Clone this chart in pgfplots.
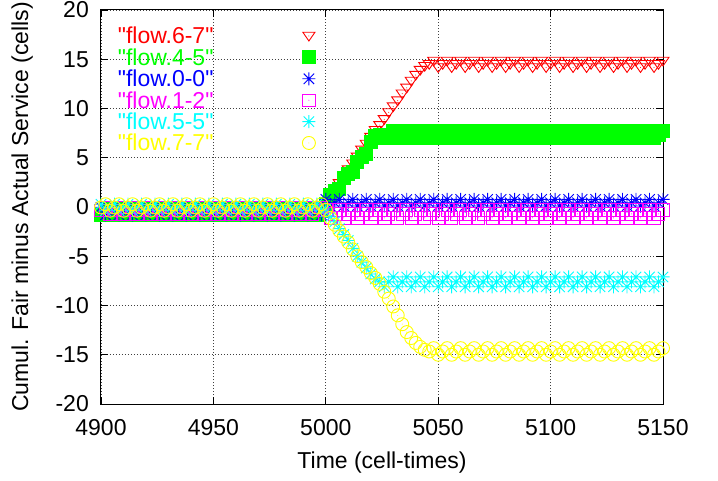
\documentclass[border=0pt]{standalone}
\usepackage{fontspec}
\setmainfont{Liberation Sans}[Ligatures=TeXOff]
\usepackage{pgfplots}
\usepackage{pgfplotstable}
\pgfplotsset{compat=1.18}

\definecolor{gpred}{RGB}{255,0,0}
\definecolor{gpgreen}{RGB}{0,255,0}
\definecolor{gpblue}{RGB}{0,0,255}
\definecolor{gpmag}{RGB}{255,0,255}
\definecolor{gpcyan}{RGB}{0,255,255}
\definecolor{gpyellow}{RGB}{255,255,0}

\pgfdeclareplotmark{dtri}{%
  \pgfpathmoveto{\pgfqpoint{0pt}{-0.75\pgfplotmarksize}}%
  \pgfpathlineto{\pgfqpoint{0.9\pgfplotmarksize}{0.55\pgfplotmarksize}}%
  \pgfpathlineto{\pgfqpoint{-0.9\pgfplotmarksize}{0.55\pgfplotmarksize}}%
  \pgfpathclose\pgfusepathqstroke
  \pgfpathcircle{\pgfpointorigin}{0.5pt}\pgfusepathqfill}
\pgfdeclareplotmark{sqdot}{%
  \pgfpathrectangle{\pgfqpoint{-\pgfplotmarksize}{-\pgfplotmarksize}}{\pgfqpoint{2\pgfplotmarksize}{2\pgfplotmarksize}}%
  \pgfusepathqstroke
  \pgfpathcircle{\pgfpointorigin}{0.5pt}\pgfusepathqfill}
\pgfdeclareplotmark{circdot}{%
  \pgfpathcircle{\pgfpointorigin}{\pgfplotmarksize}\pgfusepathqstroke
  \pgfpathcircle{\pgfpointorigin}{0.5pt}\pgfusepathqfill}
\pgfdeclareplotmark{plusx}{%
  \pgfpathmoveto{\pgfqpoint{-\pgfplotmarksize}{0pt}}\pgfpathlineto{\pgfqpoint{\pgfplotmarksize}{0pt}}%
  \pgfpathmoveto{\pgfqpoint{0pt}{-\pgfplotmarksize}}\pgfpathlineto{\pgfqpoint{0pt}{\pgfplotmarksize}}%
  \pgfpathmoveto{\pgfqpoint{-0.8\pgfplotmarksize}{-0.8\pgfplotmarksize}}\pgfpathlineto{\pgfqpoint{0.8\pgfplotmarksize}{0.8\pgfplotmarksize}}%
  \pgfpathmoveto{\pgfqpoint{-0.8\pgfplotmarksize}{0.8\pgfplotmarksize}}\pgfpathlineto{\pgfqpoint{0.8\pgfplotmarksize}{-0.8\pgfplotmarksize}}%
  \pgfusepathqstroke}

\pgfplotstableread{
t A B C D E F
4900 -0.55 -0.80 -0.03 -0.37 0.28 -0.05
4902 -0.22 -0.45 -0.80 -0.03 -0.38 0.28
4904 0.12 -0.10 -0.40 -0.75 -0.05 -0.38
4906 -0.55 -0.80 -0.03 -0.37 0.28 -0.05
4908 -0.22 -0.45 -0.80 -0.03 -0.38 0.28
4910 0.12 -0.10 -0.40 -0.75 -0.05 -0.38
4912 -0.55 -0.80 -0.03 -0.37 0.28 -0.05
4914 -0.22 -0.45 -0.80 -0.03 -0.38 0.28
4916 0.12 -0.10 -0.40 -0.75 -0.05 -0.38
4918 -0.55 -0.80 -0.03 -0.37 0.28 -0.05
4920 -0.22 -0.45 -0.80 -0.03 -0.38 0.28
4922 0.12 -0.10 -0.40 -0.75 -0.05 -0.38
4924 -0.55 -0.80 -0.03 -0.37 0.28 -0.05
4926 -0.22 -0.45 -0.80 -0.03 -0.38 0.28
4928 0.12 -0.10 -0.40 -0.75 -0.05 -0.38
4930 -0.55 -0.80 -0.03 -0.37 0.28 -0.05
4932 -0.22 -0.45 -0.80 -0.03 -0.38 0.28
4934 0.12 -0.10 -0.40 -0.75 -0.05 -0.38
4936 -0.55 -0.80 -0.03 -0.37 0.28 -0.05
4938 -0.22 -0.45 -0.80 -0.03 -0.38 0.28
4940 0.12 -0.10 -0.40 -0.75 -0.05 -0.38
4942 -0.55 -0.80 -0.03 -0.37 0.28 -0.05
4944 -0.22 -0.45 -0.80 -0.03 -0.38 0.28
4946 0.12 -0.10 -0.40 -0.75 -0.05 -0.38
4948 -0.55 -0.80 -0.03 -0.37 0.28 -0.05
4950 -0.22 -0.45 -0.80 -0.03 -0.38 0.28
4952 0.12 -0.10 -0.40 -0.75 -0.05 -0.38
4954 -0.55 -0.80 -0.03 -0.37 0.28 -0.05
4956 -0.22 -0.45 -0.80 -0.03 -0.38 0.28
4958 0.12 -0.10 -0.40 -0.75 -0.05 -0.38
4960 -0.55 -0.80 -0.03 -0.37 0.28 -0.05
4962 -0.22 -0.45 -0.80 -0.03 -0.38 0.28
4964 0.12 -0.10 -0.40 -0.75 -0.05 -0.38
4966 -0.55 -0.80 -0.03 -0.37 0.28 -0.05
4968 -0.22 -0.45 -0.80 -0.03 -0.38 0.28
4970 0.12 -0.10 -0.40 -0.75 -0.05 -0.38
4972 -0.55 -0.80 -0.03 -0.37 0.28 -0.05
4974 -0.22 -0.45 -0.80 -0.03 -0.38 0.28
4976 0.12 -0.10 -0.40 -0.75 -0.05 -0.38
4978 -0.55 -0.80 -0.03 -0.37 0.28 -0.05
4980 -0.22 -0.45 -0.80 -0.03 -0.38 0.28
4982 0.12 -0.10 -0.40 -0.75 -0.05 -0.38
4984 -0.55 -0.80 -0.03 -0.37 0.28 -0.05
4986 -0.22 -0.45 -0.80 -0.03 -0.38 0.28
4988 0.12 -0.10 -0.40 -0.75 -0.05 -0.38
4990 -0.55 -0.80 -0.03 -0.37 0.28 -0.05
4992 -0.22 -0.45 -0.80 -0.03 -0.38 0.28
4994 0.12 -0.10 -0.40 -0.75 -0.05 -0.38
4996 -0.55 -0.80 -0.03 -0.37 0.28 -0.05
4998 -0.22 -0.45 -0.80 -0.03 -0.38 0.28
5000 0.3 0.3 0.77 -0.3 -0.2 -0.3
5002 1.1 1.2 0.1 -1.1 -1.0 -1.1
5004 1.8 1.6 0.43 -0.7 -1.5 -1.8
5006 2.4 1.8 0.77 -0.3 -2.2 -2.4
5008 3.1 2.9 0.1 -1.1 -2.8 -3.0
5010 3.8 3.4 0.43 -0.7 -3.4 -3.6
5012 4.4 3.6 0.77 -0.3 -4.2 -4.3
5014 5.1 4.6 0.1 -1.1 -5.0 -5.0
5016 5.8 5.1 0.43 -0.7 -5.6 -5.6
5018 6.4 5.4 0.77 -0.3 -6.2 -6.1
5020 7.1 6.6 0.1 -1.1 -6.8 -6.7
5022 7.8 7.2 0.43 -0.7 -7.3 -7.2
5024 8.3 7.33 0.77 -0.3 -7.6 -7.8
5026 8.9 7.0 0.1 -1.1 -8.1 -8.6
5028 9.6 7.33 0.43 -0.7 -7.6 -9.3
5030 10.2 7.67 0.77 -0.3 -7.1 -10.1
5032 10.8 7.0 0.1 -1.1 -8.1 -11.0
5034 11.5 7.33 0.43 -0.7 -7.6 -11.9
5036 12.1 7.67 0.77 -0.3 -7.1 -12.7
5038 12.8 7.0 0.1 -1.1 -8.1 -13.3
5040 13.4 7.33 0.43 -0.7 -7.6 -13.8
5042 13.9 7.67 0.77 -0.3 -7.1 -14.2
5044 14.3 7.0 0.1 -1.1 -8.1 -14.5
5046 14.5 7.33 0.43 -0.7 -7.6 -14.67
5048 14.83 7.67 0.77 -0.3 -7.1 -14.33
5050 14.17 7.0 0.1 -1.1 -8.1 -15.0
5052 14.5 7.33 0.43 -0.7 -7.6 -14.67
5054 14.83 7.67 0.77 -0.3 -7.1 -14.33
5056 14.17 7.0 0.1 -1.1 -8.1 -15.0
5058 14.5 7.33 0.43 -0.7 -7.6 -14.67
5060 14.83 7.67 0.77 -0.3 -7.1 -14.33
5062 14.17 7.0 0.1 -1.1 -8.1 -15.0
5064 14.5 7.33 0.43 -0.7 -7.6 -14.67
5066 14.83 7.67 0.77 -0.3 -7.1 -14.33
5068 14.17 7.0 0.1 -1.1 -8.1 -15.0
5070 14.5 7.33 0.43 -0.7 -7.6 -14.67
5072 14.83 7.67 0.77 -0.3 -7.1 -14.33
5074 14.17 7.0 0.1 -1.1 -8.1 -15.0
5076 14.5 7.33 0.43 -0.7 -7.6 -14.67
5078 14.83 7.67 0.77 -0.3 -7.1 -14.33
5080 14.17 7.0 0.1 -1.1 -8.1 -15.0
5082 14.5 7.33 0.43 -0.7 -7.6 -14.67
5084 14.83 7.67 0.77 -0.3 -7.1 -14.33
5086 14.17 7.0 0.1 -1.1 -8.1 -15.0
5088 14.5 7.33 0.43 -0.7 -7.6 -14.67
5090 14.83 7.67 0.77 -0.3 -7.1 -14.33
5092 14.17 7.0 0.1 -1.1 -8.1 -15.0
5094 14.5 7.33 0.43 -0.7 -7.6 -14.67
5096 14.83 7.67 0.77 -0.3 -7.1 -14.33
5098 14.17 7.0 0.1 -1.1 -8.1 -15.0
5100 14.5 7.33 0.43 -0.7 -7.6 -14.67
5102 14.83 7.67 0.77 -0.3 -7.1 -14.33
5104 14.17 7.0 0.1 -1.1 -8.1 -15.0
5106 14.5 7.33 0.43 -0.7 -7.6 -14.67
5108 14.83 7.67 0.77 -0.3 -7.1 -14.33
5110 14.17 7.0 0.1 -1.1 -8.1 -15.0
5112 14.5 7.33 0.43 -0.7 -7.6 -14.67
5114 14.83 7.67 0.77 -0.3 -7.1 -14.33
5116 14.17 7.0 0.1 -1.1 -8.1 -15.0
5118 14.5 7.33 0.43 -0.7 -7.6 -14.67
5120 14.83 7.67 0.77 -0.3 -7.1 -14.33
5122 14.17 7.0 0.1 -1.1 -8.1 -15.0
5124 14.5 7.33 0.43 -0.7 -7.6 -14.67
5126 14.83 7.67 0.77 -0.3 -7.1 -14.33
5128 14.17 7.0 0.1 -1.1 -8.1 -15.0
5130 14.5 7.33 0.43 -0.7 -7.6 -14.67
5132 14.83 7.67 0.77 -0.3 -7.1 -14.33
5134 14.17 7.0 0.1 -1.1 -8.1 -15.0
5136 14.5 7.33 0.43 -0.7 -7.6 -14.67
5138 14.83 7.67 0.77 -0.3 -7.1 -14.33
5140 14.17 7.0 0.1 -1.1 -8.1 -15.0
5142 14.5 7.33 0.43 -0.7 -7.6 -14.67
5144 14.83 7.67 0.77 -0.3 -7.1 -14.33
5146 14.17 7.0 0.1 -1.1 -8.1 -15.0
5148 14.5 7.33 0.43 -0.7 -7.6 -14.67
5150 14.83 7.67 0.77 -0.3 -7.1 -14.33
}\datatable

\begin{document}
\begin{tikzpicture}[font=\fontsize{23bp}{27bp}\selectfont]
\useasboundingbox (-101bp,-77bp) rectangle (617bp,404bp);
\begin{axis}[
  at={(0,0)}, anchor=south west,
  scale only axis, width=562bp, height=394bp,
  xmin=4900, xmax=5150, ymin=-20, ymax=20,
  xtick={4900,4950,5000,5050,5100,5150},
  xticklabels={4900,4950,5000,5050,5100,5150},
  ytick={-20,-15,-10,-5,0,5,10,15,20},
  yticklabels={-20,-15,-10,-5,0,5,10,15,20},
  tick align=inside, major tick length=7bp,
  tick style={black, line width=0.8bp},
  grid=major,
  major grid style={black!75, line width=0.7bp, dash pattern=on 0.8bp off 2.2bp},
  axis line style={black, line width=1bp},
  xticklabel style={inner sep=0pt, anchor=north, yshift=-15bp},
  yticklabel style={inner sep=0pt, anchor=east, xshift=-12bp},
  xlabel={Time (cell-times)},
  ylabel={Cumul. Fair minus Actual Service (cells)},
  xlabel style={at={(axis description cs:0.5,0)}, anchor=base, yshift=-64bp, inner sep=0pt},
  ylabel style={at={(axis description cs:-0.121,0.5)}, anchor=south, inner sep=0pt},
  clip=false,
  legend style={at={(axis description cs:0.030,0.962)}, anchor=north west,
    draw=none, fill=none, inner sep=0pt, outer sep=0pt, row sep=-0.6bp, column sep=0pt,
    nodes={inner sep=0pt, text height=19bp, text depth=3bp}},
  legend cell align=right,
  legend plot pos=right,
  legend image code/.code={\path (0bp,0bp); \draw[#1] plot coordinates {(95bp,0bp)};},
]
\addplot[only marks, color=gpred, line width=0.9bp, mark=dtri, mark size=6.7bp] table[x=t,y=A] {\datatable};
\addlegendentry{\textcolor{gpred}{"flow.6-7"}}
\addplot[only marks, color=gpgreen, fill=gpgreen, line width=0.9bp, mark=square*, mark size=6.5bp] table[x=t,y=B] {\datatable};
\addlegendentry{\textcolor{gpgreen}{"flow.4-5"}}
\addplot[only marks, color=gpblue, line width=0.9bp, mark=plusx, mark size=6.5bp] table[x=t,y=C] {\datatable};
\addlegendentry{\textcolor{gpblue}{"flow.0-0"}}
\addplot[only marks, color=gpmag, line width=0.9bp, mark=sqdot, mark size=6.2bp] table[x=t,y=D] {\datatable};
\addlegendentry{\textcolor{gpmag}{"flow.1-2"}}
\addplot[only marks, color=gpcyan, line width=0.9bp, mark=plusx, mark size=6.5bp] table[x=t,y=E] {\datatable};
\addlegendentry{\textcolor{gpcyan}{"flow.5-5"}}
\addplot[only marks, color=gpyellow, line width=0.9bp, mark=circdot, mark size=6.5bp] table[x=t,y=F] {\datatable};
\addlegendentry{\textcolor{gpyellow}{"flow.7-7"}}
\end{axis}
\end{tikzpicture}
\end{document}
